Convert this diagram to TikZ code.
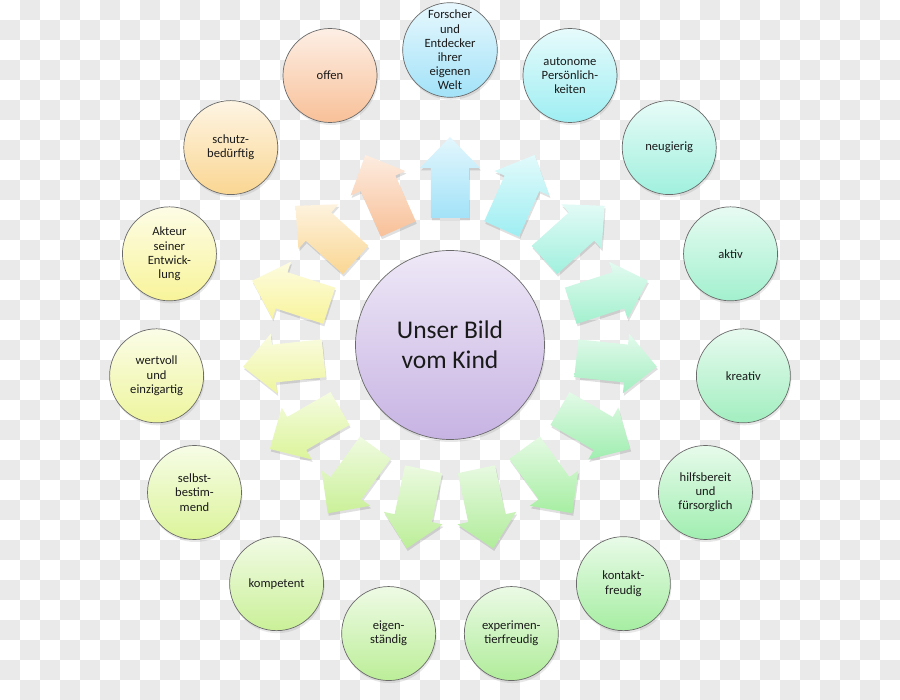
\documentclass[tikz,border=0pt]{standalone}
\usepackage{fontspec}
\setmainfont{Carlito}
\usepackage{tikz}
\usetikzlibrary{shadows}
\definecolor{checker}{HTML}{EAEAEA}
\definecolor{rim}{HTML}{6A6A6A}
\definecolor{ink}{HTML}{1A1A1A}
\definecolor{lavender}{HTML}{C7B3E3}
\definecolor{sky}{HTML}{A2E2F8}
\definecolor{aqua}{HTML}{9EEEF2}
\definecolor{turquoise}{HTML}{A0F0DE}
\definecolor{aquamint}{HTML}{A2F0CE}
\definecolor{mint}{HTML}{A2EEC0}
\definecolor{seafoam}{HTML}{A0EEB0}
\definecolor{leaf}{HTML}{A6EEA2}
\definecolor{fern}{HTML}{B0EC9A}
\definecolor{spring}{HTML}{BCEE98}
\definecolor{pistachio}{HTML}{CAF098}
\definecolor{limeyellow}{HTML}{DCF49A}
\definecolor{chartreuse}{HTML}{EEF59E}
\definecolor{lemon}{HTML}{F8F49A}
\definecolor{apricot}{HTML}{FAD692}
\definecolor{peach}{HTML}{F8C098}

\begin{document}
\begin{tikzpicture}[
  x=1pt,y=1pt,
  trait/.style={circle,draw=rim,line width=0.7pt,minimum size=94pt,inner sep=0pt,
    align=center,text=ink,font=\fontsize{12.6}{14.2}\selectfont,
    drop shadow={opacity=0.18,shadow xshift=1pt,shadow yshift=-2.5pt}},
  hub/.style={trait,minimum size=189pt,font=\fontsize{25.5}{30}\selectfont,
    top color=lavender!30!white,bottom color=lavender},
  blockarrow/.style={draw=none}
]
\useasboundingbox (-450,-355) rectangle (450,345);
% background
\fill[white] (-450,-355) rectangle (450,345);
\foreach \j in {0,2,...,34}
  \foreach \i in {1,3,...,43}
    \fill[checker] ({20*\i-450},{345-20*\j}) rectangle ++(20,-20);
\foreach \j in {1,3,...,33}
  \foreach \i in {0,2,...,44}
    \fill[checker] ({20*\i-450},{345-20*\j}) rectangle ++(20,-20);

% arrows
\foreach \k/\col in {0/sky,1/aqua,2/turquoise,3/aquamint,4/mint,5/seafoam,6/leaf,
    7/fern,8/spring,9/pistachio,10/limeyellow,11/chartreuse,12/lemon,13/apricot,14/peach}{
  \fill[black,opacity=0.12,shift={(1,-2.5)},rotate=90-24*\k]
    (127,-19) -- (177,-19) -- (177,-30) -- (208,0) -- (177,30) -- (177,19) -- (127,19) -- cycle;
  \shade[blockarrow,top color=\col!30!white,bottom color=\col,rotate=90-24*\k]
    (127,-19) -- (177,-19) -- (177,-30) -- (208,0) -- (177,30) -- (177,19) -- (127,19) -- cycle;
}

% circles
\node[hub] (hub) at (0,0) {Unser Bild\\vom Kind};
\foreach \k/\col/\txt in {
    0/sky/{Forscher\\und\\Entdecker\\ihrer\\eigenen\\Welt},
    1/aqua/{autonome\\Persönlich-\\keiten},
    2/turquoise/{neugierig},
    3/aquamint/{aktiv},
    4/mint/{kreativ},
    5/seafoam/{hilfsbereit\\und\\fürsorglich},
    6/leaf/{kontakt-\\freudig},
    7/fern/{experimen-\\tierfreudig},
    8/spring/{eigen-\\ständig},
    9/pistachio/{kompetent},
    10/limeyellow/{selbst-\\bestim-\\mend},
    11/chartreuse/{wertvoll\\und\\einzigartig},
    12/lemon/{Akteur\\seiner\\Entwick-\\lung},
    13/apricot/{schutz-\\bedürftig},
    14/peach/{offen}}
  \node[trait,top color=\col!25!white,bottom color=\col] (trait\k) at ({90-24*\k}:295) {\txt};
\end{tikzpicture}
\end{document}
